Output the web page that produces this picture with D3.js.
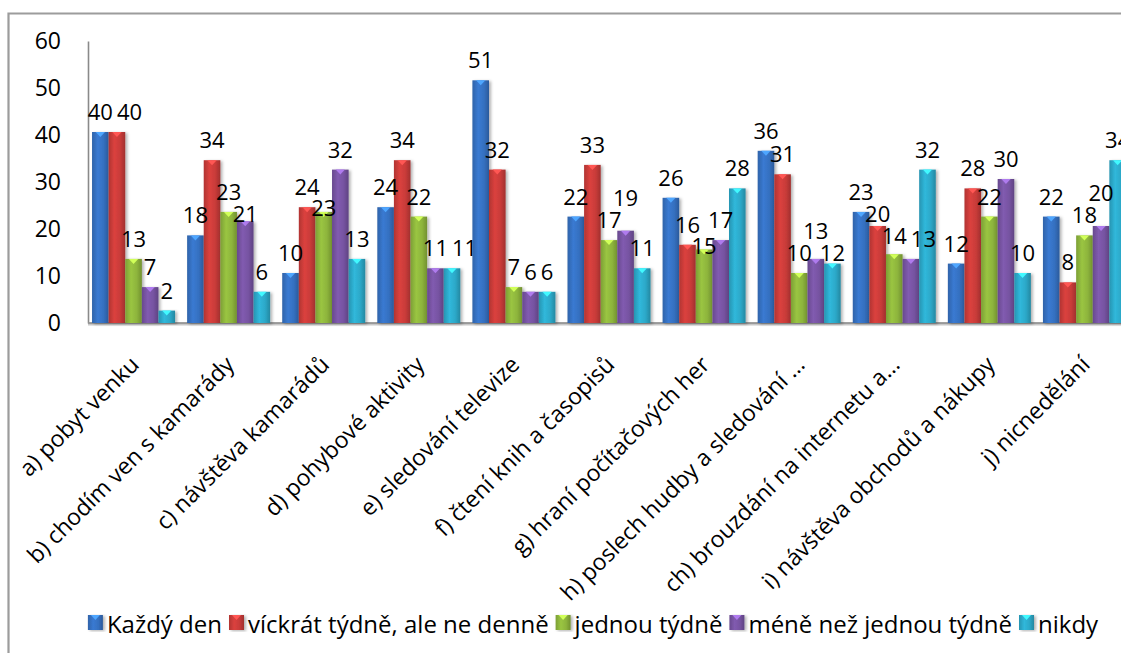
<!DOCTYPE html>
<html>
<head>
<meta charset="utf-8">
<script src="https://cdn.jsdelivr.net/npm/d3@7"></script>
<style>
  html, body { margin: 0; padding: 0; background: #fff; }
  svg { display: block; font-family: "Open Sans", Lato, sans-serif; }
</style>
</head>
<body>
<div id="chart"></div>
<script>
const categories = ["a) pobyt venku", "b) chodím ven s kamarády", "c) návštěva kamarádů",
  "d) pohybové aktivity", "e) sledování televize", "f) čtení knih a časopisů",
  "g) hraní počítačových her", "h) poslech hudby a sledování …", "ch) brouzdání na internetu a…",
  "i) návštěva obchodů a nákupy", "j) nicnedělání"];
const seriesNames = ["Každý den", "víckrát týdně, ale ne denně", "jednou týdně", "méně než jednou týdně", "nikdy"];
const kazdyDen   = [40, 18, 10, 24, 51, 22, 26, 36, 23, 12, 22];
const vickrat    = [40, 34, 24, 34, 32, 33, 16, 31, 20, 28, 8];
const jednou     = [13, 23, 23, 22, 7, 17, 15, 10, 14, 22, 18];
const mene       = [7, 21, 32, 11, 6, 19, 17, 13, 13, 30, 20];
const nikdy      = [2, 6, 13, 11, 6, 11, 28, 12, 32, 10, 34];
const yTicks = [0, 10, 20, 30, 40, 50, 60];

const seriesValues = [kazdyDen, vickrat, jednou, mene, nikdy];
const colors = ["#3570c0", "#c83b39", "#8db43c", "#7653a1", "#2ca8c8"];

const W = 1121, H = 653;
const plot = {left: 86, right: 1132, top: 41, bottom: 323};
const depth = 3; // 3d top face
const FONT = "Open Sans";

const svg = d3.select("#chart").append("svg")
  .attr("width", W).attr("height", H);

const defs = svg.append("defs");
colors.forEach((c, i) => {
  const base = d3.color(c);
  const g = defs.append("linearGradient").attr("id", "grad" + i)
    .attr("x1", 0).attr("x2", 1).attr("y1", 0).attr("y2", 0);
  g.append("stop").attr("offset", "0%").attr("stop-color", base.darker(0.35));
  g.append("stop").attr("offset", "35%").attr("stop-color", base.brighter(0.25));
  g.append("stop").attr("offset", "70%").attr("stop-color", base);
  g.append("stop").attr("offset", "100%").attr("stop-color", base.darker(0.6));
});
const f = defs.append("filter").attr("id", "shadow")
  .attr("x", "-20%").attr("y", "-5%").attr("width", "160%").attr("height", "115%");
f.append("feDropShadow").attr("dx", 2).attr("dy", 1).attr("stdDeviation", 1.5)
  .attr("flood-color", "#000").attr("flood-opacity", 0.3);

// frame
svg.append("path").attr("d", `M8.5,${H} V13.5 H${W}`)
  .attr("fill", "none").attr("stroke", "#9c9c9c").attr("stroke-width", 2.2);

const x0 = d3.scaleBand().domain(categories).range([plot.left, plot.right])
  .paddingInner(0.127).paddingOuter(0.0635);
const x1 = d3.scaleBand().domain(d3.range(seriesNames.length)).range([0, x0.bandwidth()]);
const y = d3.scaleLinear().domain([0, 60]).range([plot.bottom, plot.top]);

// y axis
const yAxis = svg.append("g").attr("transform", `translate(88,0)`)
  .call(d3.axisLeft(y).tickValues(yTicks).tickSize(0).tickPadding(27));
yAxis.select(".domain").attr("stroke", "#8a8a8a").attr("stroke-width", 1.6);
yAxis.selectAll("text").attr("font-size", 23).attr("font-family", FONT).attr("fill", "#000");

// floor line
svg.append("line").attr("x1", 88).attr("x2", W).attr("y1", plot.bottom + 1).attr("y2", plot.bottom + 1)
  .attr("stroke", "#c8c8c8").attr("stroke-width", 3);
svg.append("line").attr("x1", 88).attr("x2", W).attr("y1", plot.bottom).attr("y2", plot.bottom)
  .attr("stroke", "#8a8a8a").attr("stroke-width", 1.6);

// bars
const groups = svg.selectAll(".grp").data(categories).enter().append("g")
  .attr("class", "grp").attr("transform", d => `translate(${x0(d)},0)`);

function barData(ci) {
  return seriesValues.map((vals, si) => ({si, v: vals[ci]}));
}

groups.each(function(cat, ci) {
  const g = d3.select(this);
  const bw = x1.bandwidth();
  const bars = g.selectAll(".bar").data(barData(ci)).enter().append("g").attr("class", "bar");
  bars.append("rect")
    .attr("x", d => x1(d.si))
    .attr("y", d => y(d.v) - depth)
    .attr("width", bw)
    .attr("height", d => plot.bottom - y(d.v) + depth)
    .attr("fill", d => `url(#grad${d.si})`)
    .attr("filter", "url(#shadow)");
  bars.append("path")
    .attr("d", d => {
      const xl = x1(d.si), t = y(d.v) - depth;
      return `M${xl + bw * 0.22},${t} L${xl + bw * 0.78},${t} L${xl + bw / 2},${t + 5} Z`;
    })
    .attr("fill", d => d3.color(colors[d.si]).brighter(1.1));
});

// data labels, nudged a bit when they collide inside a group
const LH = 22;
groups.each(function(cat, ci) {
  const inGroup = [];
  barData(ci).forEach(d => {
    const top = y(d.v) - depth;
    const t = svg.append("text")
      .attr("text-anchor", "middle").attr("dominant-baseline", "central")
      .attr("font-size", 22).attr("font-family", FONT).attr("fill", "#000")
      .text(d.v);
    const lab = {cx: x0(cat) + x1(d.si) + x1.bandwidth() / 2, cy: top - 21,
                 w: t.node().getComputedTextLength(), top};
    const hit = (a, b) => Math.abs(a.cx - b.cx) < (a.w + b.w) / 2 + 1 && Math.abs(a.cy - b.cy) < LH;
    const other = inGroup.find(o => hit(o, lab));
    if (other) {
      if (lab.top < other.top) {
        lab.cy = other.cy - LH;
      } else {
        const down = Math.min(other.cy + LH, top - 5);
        if (down - other.cy >= 19) lab.cy = down;
        else lab.cx = other.cx + (other.w + lab.w) / 2 + 4;
      }
    }
    inGroup.push(lab);
    t.attr("x", lab.cx).attr("y", lab.cy);
  });
});

// category labels
svg.selectAll(".cat").data(categories).enter().append("text")
  .attr("class", "cat")
  .attr("text-anchor", "end")
  .attr("font-size", 23).attr("font-family", FONT).attr("fill", "#000")
  .attr("transform", d => `translate(${x0(d) + x0.bandwidth() / 2 + 7},366) rotate(-45)`)
  .text(d => d);

// legend
const legend = svg.append("g").attr("class", "legend");
let lx = 0;
seriesNames.forEach((name, i) => {
  const it = legend.append("g").attr("transform", `translate(${lx},0)`);
  it.append("rect").attr("x", 0).attr("y", -8).attr("width", 15).attr("height", 15)
    .attr("fill", `url(#grad${i})`).attr("filter", "url(#shadow)");
  it.append("path").attr("d", "M3,-8 L12,-8 L7.5,-3 Z")
    .attr("fill", d3.color(colors[i]).brighter(1.1));
  const t = it.append("text").attr("x", 19).attr("y", 0)
    .attr("dominant-baseline", "central")
    .attr("font-size", 24).attr("font-family", FONT).attr("fill", "#000").text(name);
  lx += 19 + t.node().getComputedTextLength() + 7;
});
const lw = lx - 7;
legend.attr("transform", `translate(${593 - lw / 2},623)`);
</script>
</body>
</html>
